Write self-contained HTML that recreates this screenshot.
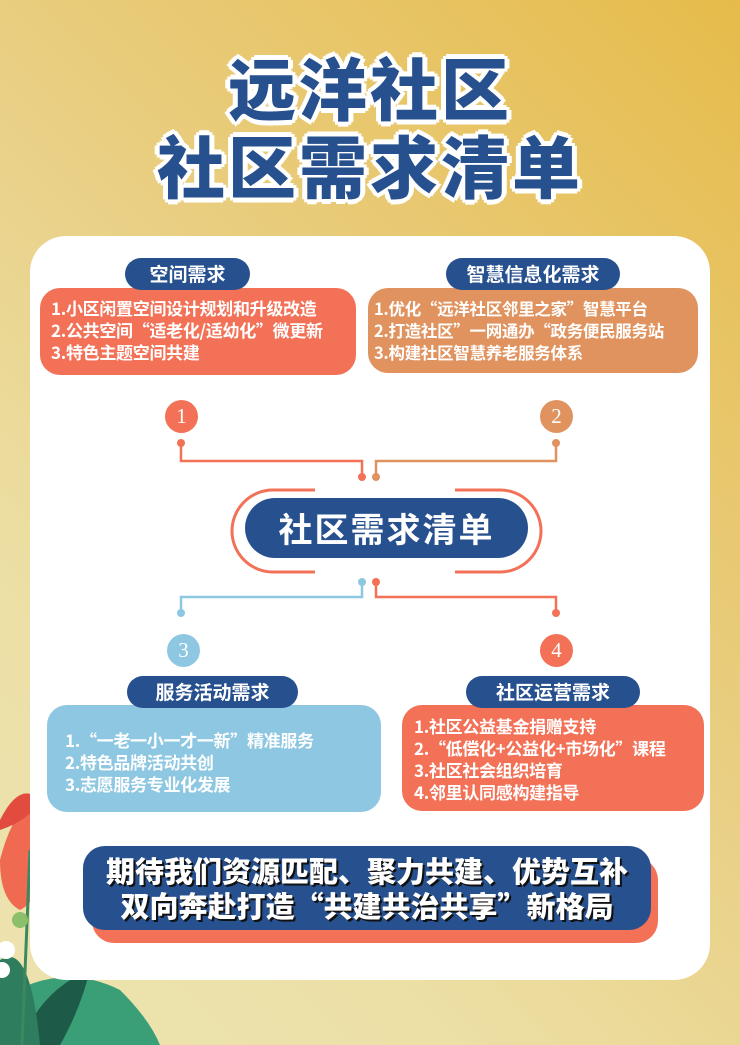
<!DOCTYPE html>
<html><head><meta charset="utf-8"><style>
*{margin:0;padding:0;box-sizing:border-box}
body{width:740px;height:1045px;overflow:hidden;position:relative;font-family:"Noto Sans CJK SC","Liberation Sans",sans-serif;background:linear-gradient(225deg,#e6bb4a 0%,#e9cf84 45%,#ece0a6 75%,#ede3b0 100%)}
.abs{position:absolute}
.title{position:absolute;left:0;width:740px;text-align:center;color:#27508f;font-weight:900;font-size:68px;letter-spacing:3px;text-shadow:3px 0 0 #fff,-3px 0 0 #fff,0 3px 0 #fff,0 -3px 0 #fff,3px 3px 0 #fff,-3px -3px 0 #fff,3px -3px 0 #fff,-3px 3px 0 #fff,5px 0 0 #fff,-5px 0 0 #fff,0 5px 0 #fff,0 -5px 0 #fff}
.card{position:absolute;left:30px;top:236px;width:680px;height:744px;background:#fff;border-radius:36px}
.pill{position:absolute;background:#27508f;color:#fff;font-weight:700;font-size:19px;text-align:center;border-radius:18px;line-height:32px;z-index:2}
.box{position:absolute;border-radius:20px;color:#fff;font-weight:700;font-size:17px;line-height:22px;white-space:nowrap;letter-spacing:-0.3px}
.num{position:absolute;width:33px;height:33px;border-radius:50%;color:#fff;font-size:21px;text-align:center;line-height:33px;font-family:"Liberation Serif",serif}
</style></head><body>
<svg class="abs" style="left:0;top:760px" width="160" height="285" viewBox="0 0 160 285">
<path d="M0 100 Q10 60 30 40 Q50 60 45 100 Q40 140 20 150 Q0 140 0 100Z" fill="#ef6a50"/>
<path d="M0 60 Q20 20 40 40 Q30 60 0 70Z" fill="#e24c3f"/>
<path d="M0 240 Q60 200 120 230 Q150 260 160 285 L0 285Z" fill="#3a9e77"/>
<path d="M20 285 Q40 230 90 210 Q80 250 60 285Z" fill="#1e5a48"/>
<path d="M0 200 Q30 180 40 285 L0 285Z" fill="#2e7d5e"/>
<path d="M30 90 L22 285" stroke="#3b8a5f" stroke-width="3" fill="none"/>
<circle cx="6" cy="190" r="9" fill="#fff"/><circle cx="2" cy="210" r="8" fill="#fff"/>
<circle cx="20" cy="160" r="8" fill="#8bbf6a"/>
</svg>
<div class="title" style="top:44px;line-height:84px">远洋社区</div>
<div class="title" style="top:122px;line-height:84px">社区需求清单</div>
<div class="card"></div>

<div class="pill" style="left:125px;top:258px;width:125px">空间需求</div>
<div class="box" style="left:40px;top:288px;width:316px;height:87px;background:#f27157;padding:9px 0 0 11px">1.小区闲置空间设计规划和升级改造<br>2.公共空间“适老化/适幼化”微更新<br>3.特色主题空间共建</div>
<div class="pill" style="left:446px;top:258px;width:174px">智慧信息化需求</div>
<div class="box" style="left:368px;top:288px;width:330px;height:85px;background:#e0935e;padding:9px 0 0 6px;font-size:16.5px">1.优化“远洋社区邻里之家”智慧平台<br>2.打造社区”一网通办“政务便民服务站<br>3.构建社区智慧养老服务体系</div>

<div class="num" style="left:165px;top:400px;background:#f27157">1</div>
<div class="num" style="left:540px;top:400px;background:#e0935e">2</div>
<div class="num" style="left:167px;top:634px;background:#8ec7e1">3</div>
<div class="num" style="left:540px;top:634px;background:#f27157">4</div>

<svg class="abs" style="left:0;top:0" width="740" height="1045">
<g fill="none" stroke-width="2.5">
<path d="M181 443 V461 H362 V476" stroke="#f27157"/>
<path d="M556 443 V461 H376 V476" stroke="#e0935e"/>
<path d="M362 582 V597 H181 V613" stroke="#8ec7e1"/>
<path d="M376 582 V597 H556 V613" stroke="#f27157"/>
<path d="M315 490 H273 A40 40 0 0 0 273 572 H315 M455 490 H500 A41 41 0 0 1 500 572 H455" stroke="#f27157" stroke-width="3"/>
</g>
<g fill="#f27157"><circle cx="181" cy="443" r="4"/><circle cx="362" cy="477" r="4"/><circle cx="376" cy="582" r="4"/><circle cx="556" cy="613" r="4"/></g>
<g fill="#e0935e"><circle cx="556" cy="443" r="4"/><circle cx="376" cy="477" r="4"/></g>
<g fill="#8ec7e1"><circle cx="362" cy="582" r="4"/><circle cx="181" cy="613" r="4"/></g>
</svg>
<div class="pill" style="left:245px;top:498px;width:283px;height:60px;border-radius:30px;line-height:60px;font-size:34px;letter-spacing:2px">社区需求清单</div>

<div class="pill" style="left:127px;top:676px;width:171px">服务活动需求</div>
<div class="box" style="left:47px;top:705px;width:334px;height:107px;background:#8ec7e1;padding:24px 0 0 18px">1.“一老一小一才一新”精准服务<br>2.特色品牌活动共创<br>3.志愿服务专业化发展</div>
<div class="pill" style="left:466px;top:676px;width:174px">社区运营需求</div>
<div class="box" style="left:402px;top:705px;width:302px;height:106px;background:#f27157;padding:10px 0 0 12px">1.社区公益基金捐赠支持<br>2.“低偿化+公益化+市场化”课程<br>3.社区社会组织培育<br>4.邻里认同感构建指导</div>

<div class="abs" style="left:92px;top:858px;width:566px;height:85px;background:#f27157;border-radius:22px"></div>
<div class="abs" style="left:83px;top:846px;width:568px;height:84px;background:#27508f;border-radius:22px;color:#fff;font-weight:900;font-size:29px;line-height:35px;text-align:center;padding-top:7px;white-space:nowrap;text-shadow:2px 2px 0 #111">期待我们资源匹配、聚力共建、优势互补<br>双向奔赴打造“共建共治共享”新格局</div>
</body></html>
